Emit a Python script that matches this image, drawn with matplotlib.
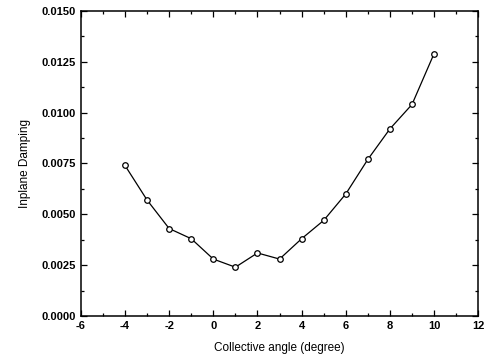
import matplotlib.pyplot as plt
from matplotlib.ticker import MultipleLocator

plt.rcParams['font.family'] = ['Liberation Sans', 'DejaVu Sans']
plt.rcParams['axes.unicode_minus'] = False

# Collective angle vs inplane damping
angle = [-4, -3, -2, -1, 0, 1, 2, 3, 4, 5, 6, 7, 8, 9, 10]
damping = [0.0074, 0.0057, 0.0043, 0.0038, 0.0028, 0.0024, 0.0031, 0.0028,
           0.0038, 0.0047, 0.0060, 0.0077, 0.0092, 0.0104, 0.0129]

fig = plt.figure(figsize=(4.9, 3.62), dpi=100)
ax = fig.add_axes([0.165, 0.127, 0.811, 0.843])

ax.plot(angle, damping, color='black', lw=0.9, marker='o', ms=4,
        mfc='white', mec='black', mew=0.9)

ax.set_xlim(-6, 12)
ax.set_ylim(0, 0.015)
ax.xaxis.set_major_locator(MultipleLocator(2))
ax.xaxis.set_minor_locator(MultipleLocator(1))
ax.yaxis.set_major_locator(MultipleLocator(0.0025))
ax.yaxis.set_minor_locator(MultipleLocator(0.00125))
ax.yaxis.set_major_formatter(plt.FuncFormatter(lambda v, p: f"{v:.4f}"))

ax.tick_params(which='both', direction='in', top=True, right=True,
               labelsize=8, width=0.9)
ax.tick_params(which='major', length=4)
ax.tick_params(which='minor', length=2)
for lab in ax.get_xticklabels() + ax.get_yticklabels():
    lab.set_fontweight('bold')
for s in ax.spines.values():
    s.set_linewidth(1.1)

ax.set_xlabel("Collective angle (degree)", fontsize=8.5, labelpad=8)
ax.set_ylabel("Inplane Damping", fontsize=8.5, labelpad=8)

fig.savefig("out.png", dpi=100)
